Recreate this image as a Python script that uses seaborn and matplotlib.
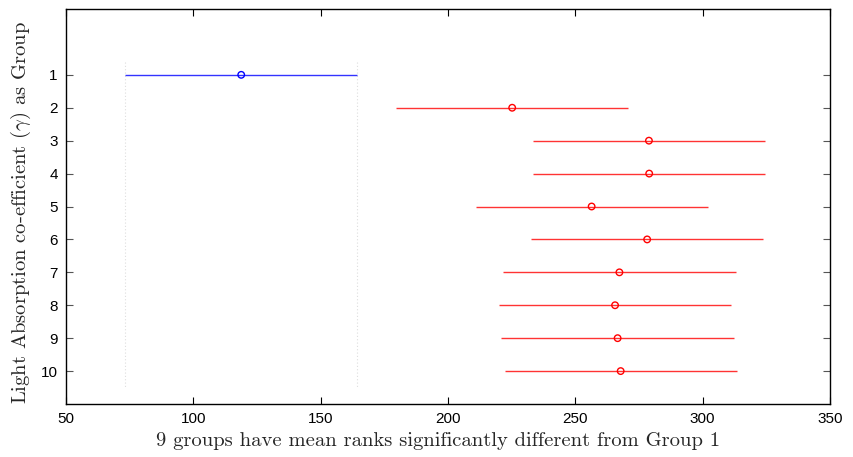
import matplotlib
matplotlib.use("Agg")
import matplotlib.pyplot as plt
import seaborn as sns
import pandas as pd

# Mean ranks and comparison intervals per group
groups = [1, 2, 3, 4, 5, 6, 7, 8, 9, 10]
mean_rank = [118.8, 225.2, 278.9, 279.0, 256.4, 278.2, 267.3, 265.6, 266.6, 267.8]
half_width = [45.6, 45.6, 45.6, 45.6, 45.6, 45.6, 45.6, 45.6, 45.6, 45.6]
selected_group = 1

x_ticks = [50, 100, 150, 200, 250, 300, 350]
x_label = "9 groups have mean ranks significantly different from Group 1"
y_label = r"Light Absorption co-efficient $(\gamma)$ as Group"

df = pd.DataFrame({"group": groups, "mean": mean_rank, "hw": half_width})
df["lo"] = df["mean"] - df["hw"]
df["hi"] = df["mean"] + df["hw"]
df["role"] = ["selected" if g == selected_group else "other" for g in groups]

sns.set_style("white")
plt.rcParams["font.family"] = ["Liberation Sans", "DejaVu Sans"]
plt.rcParams["mathtext.fontset"] = "cm"

fig = plt.figure(figsize=(8.54, 4.57), dpi=100)
ax = fig.add_axes([66 / 854, 1 - 404 / 457, 764 / 854, 395 / 457])

palette = {"selected": (0, 0, 1), "other": (1, 0, 0)}

# interval bars
for _, r in df.iterrows():
    ax.hlines(r["group"], r["lo"], r["hi"], color=palette[r["role"]], lw=1.0, alpha=0.8, zorder=2)

# reference lines at the selected group's interval bounds
sel = df[df["group"] == selected_group].iloc[0]
for xv in (sel["lo"], sel["hi"]):
    ax.vlines(xv, 0.6, 10.5, color="#dedede", lw=0.8, linestyles=(0, (1, 2)), zorder=1)

sns.scatterplot(data=df, x="mean", y="group", hue="role", palette=palette,
                marker="o", s=22, linewidth=1.0,
                legend=False, ax=ax, zorder=3)
coll = ax.collections[-1]
coll.set_facecolor("none")
coll.set_edgecolors([palette[r] for r in df["role"]])

ax.set_xlim(50, 350)
ax.set_ylim(11, -1)
ax.set_xticks(x_ticks)
ax.set_xticklabels([str(t) for t in x_ticks], fontsize=11)
ax.set_yticks(groups)
ax.set_yticklabels([str(g) for g in groups], fontsize=11)

ax.tick_params(axis="x", direction="in", length=5, width=0.8, top=True, bottom=True,
               colors="black", pad=6)
ax.tick_params(axis="y", direction="in", length=5, width=0.8, left=True, right=True,
               color="#555555", labelcolor="black", pad=6)

for sp in ax.spines.values():
    sp.set_visible(True)
    sp.set_color("black")
    sp.set_linewidth(1.0)

ax.set_xlabel(x_label, fontname="cmr10", fontsize=14.8)
ax.set_ylabel(y_label, fontname="cmr10", fontsize=14.8)
ax.xaxis.set_label_coords(0.487, -0.07)
ax.yaxis.set_label_coords(-0.043, 0.485)

fig.savefig("out.png", dpi=100)
